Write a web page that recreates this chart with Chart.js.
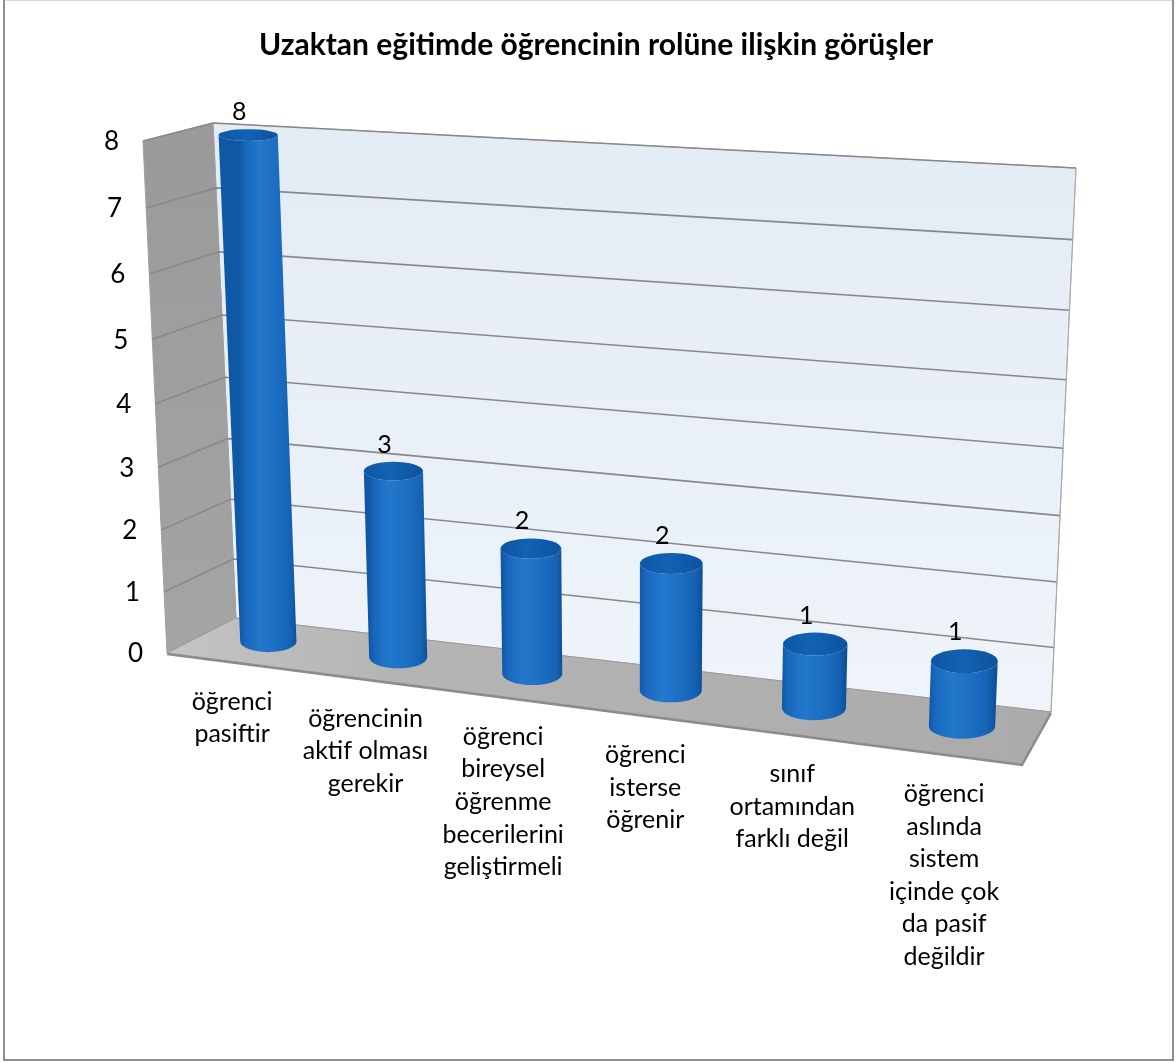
<!DOCTYPE html>
<html>
<head>
<meta charset="utf-8">
<script src="https://cdn.jsdelivr.net/npm/chart.js@4/dist/chart.umd.min.js"></script>
<style>
  html, body { margin: 0; padding: 0; background: #ffffff; }
  #wrap { width: 1176px; height: 1063px; }
</style>
</head>
<body>
<div id="wrap"><canvas id="c" width="1176" height="1063"></canvas></div>
<script>
// ---------- data ----------
const chartTitle = 'Uzaktan eğitimde öğrencinin rolüne ilişkin görüşler';
const categories = [
  ['öğrenci', 'pasiftir'],
  ['öğrencinin', 'aktif olması', 'gerekir'],
  ['öğrenci', 'bireysel', 'öğrenme', 'becerilerini', 'geliştirmeli'],
  ['öğrenci', 'isterse', 'öğrenir'],
  ['sınıf', 'ortamından', 'farklı değil'],
  ['öğrenci', 'aslında', 'sistem', 'içinde çok', 'da pasif', 'değildir']
];
const values = [8, 3, 2, 2, 1, 1];
const yMin = 0, yMax = 8, yStep = 1;

// ---------- view (3D frame) parameters, relative to the chart area ----------
const view = {
  back: { bl: [23, -94], br: [-25, 0], tr: [0, 45], tl: [0, 0] }, // offsets from chartArea corners
  depth: { bl: [-69, 35], br: [-29, 52], tr: [-30, 35], tl: [-70, 18] }, // back -> front vector
  barDepth: 0.45
};
const FONT = 'Lato, "Open Sans", sans-serif';

function lerp(a, b, t) { return [a[0] + (b[0] - a[0]) * t, a[1] + (b[1] - a[1]) * t]; }

function quadMap(q, u, v) {
  const [x0, y0] = q[0], [x1, y1] = q[1], [x2, y2] = q[2], [x3, y3] = q[3];
  const dx1 = x1 - x2, dx2 = x3 - x2, dx3 = x0 - x1 + x2 - x3;
  const dy1 = y1 - y2, dy2 = y3 - y2, dy3 = y0 - y1 + y2 - y3;
  let a, b, c, d, e, f, g, h;
  if (Math.abs(dx3) < 1e-9 && Math.abs(dy3) < 1e-9) {
    a = x1 - x0; b = x3 - x0; c = x0; d = y1 - y0; e = y3 - y0; f = y0; g = 0; h = 0;
  } else {
    const den = dx1 * dy2 - dx2 * dy1;
    g = (dx3 * dy2 - dx2 * dy3) / den;
    h = (dx1 * dy3 - dx3 * dy1) / den;
    a = x1 - x0 + g * x1; b = x3 - x0 + h * x3; c = x0;
    d = y1 - y0 + g * y1; e = y3 - y0 + h * y3; f = y0;
  }
  const w = g * u + h * v + 1;
  return [(a * u + b * v + c) / w, (d * u + e * v + f) / w];
}

function makeProjector(ca) {
  const B = {
    bl: [ca.left + view.back.bl[0], ca.bottom + view.back.bl[1]],
    br: [ca.right + view.back.br[0], ca.bottom + view.back.br[1]],
    tr: [ca.right + view.back.tr[0], ca.top + view.back.tr[1]],
    tl: [ca.left + view.back.tl[0], ca.top + view.back.tl[1]]
  };
  const F = {};
  for (const k of ['bl', 'br', 'tr', 'tl']) F[k] = [B[k][0] + view.depth[k][0], B[k][1] + view.depth[k][1]];
  return function (u, v, dd) {
    const q = [lerp(B.bl, F.bl, dd), lerp(B.br, F.br, dd), lerp(B.tr, F.tr, dd), lerp(B.tl, F.tl, dd)];
    return quadMap(q, u, v);
  };
}

function poly(ctx, pts) {
  ctx.beginPath();
  ctx.moveTo(pts[0][0], pts[0][1]);
  for (let i = 1; i < pts.length; i++) ctx.lineTo(pts[i][0], pts[i][1]);
  ctx.closePath();
}

const scene3d = {
  id: 'scene3d',
  beforeDraw(chart) {
    const ctx = chart.ctx;
    ctx.save();
    ctx.fillStyle = '#ffffff';
    ctx.fillRect(0, 0, chart.width, chart.height);
    ctx.restore();
  },
  afterDraw(chart) {
    const ctx = chart.ctx;
    const ca = chart.chartArea;
    const P = makeProjector(ca);
    const xs = chart.scales.x, ys = chart.scales.y;
    const uOf = px => (px - ca.left) / (ca.right - ca.left);
    const vOf = py => (ca.bottom - py) / (ca.bottom - ca.top);

    ctx.save();
    // outer frame
    ctx.lineWidth = 1;
    ctx.strokeStyle = '#d9d9d9';
    ctx.beginPath(); ctx.moveTo(3, 0.5); ctx.lineTo(1173, 0.5); ctx.stroke();
    ctx.lineWidth = 2;
    ctx.strokeStyle = '#8f8f8f';
    ctx.beginPath(); ctx.moveTo(4, 0); ctx.lineTo(4, 1060); ctx.lineTo(1173, 1060); ctx.lineTo(1173, 0); ctx.stroke();

    // back wall
    const bw = [P(0, 0, 0), P(1, 0, 0), P(1, 1, 0), P(0, 1, 0)];
    let gr = ctx.createLinearGradient(0, bw[3][1], 0, bw[1][1]);
    gr.addColorStop(0, '#e3ebf5');
    gr.addColorStop(1, '#eff4fa');
    poly(ctx, bw); ctx.fillStyle = gr; ctx.fill();
    ctx.lineWidth = 1; ctx.strokeStyle = '#b5b5b5'; ctx.stroke();

    // left wall
    const lw = [P(0, 0, 0), P(0, 0, 1), P(0, 1, 1), P(0, 1, 0)];
    gr = ctx.createLinearGradient(0, lw[2][1], 0, lw[1][1]);
    gr.addColorStop(0, '#9a9a9a');
    gr.addColorStop(1, '#a4a4a4');
    poly(ctx, lw); ctx.fillStyle = gr; ctx.fill();
    ctx.strokeStyle = '#a0a0a0'; ctx.stroke();

    // floor
    const fl = [P(0, 0, 0), P(1, 0, 0), P(1, 0, 1), P(0, 0, 1)];
    gr = ctx.createLinearGradient(fl[3][0], 0, fl[2][0], 0);
    gr.addColorStop(0, '#c4c4c4');
    gr.addColorStop(0.25, '#b5b5b5');
    gr.addColorStop(1, '#ababab');
    poly(ctx, fl); ctx.fillStyle = gr; ctx.fill();
    ctx.lineWidth = 1; ctx.strokeStyle = '#9a9a9a'; ctx.stroke();
    ctx.lineWidth = 2.5; ctx.strokeStyle = '#8c8c8c';
    ctx.beginPath(); ctx.moveTo(fl[3][0], fl[3][1] + 1); ctx.lineTo(fl[2][0], fl[2][1] + 1); ctx.lineTo(fl[1][0], fl[1][1] + 1); ctx.stroke();

    // gridlines from y scale ticks
    ctx.lineWidth = 1.6;
    ctx.strokeStyle = '#888888';
    ys.ticks.forEach(t => {
      const v = vOf(ys.getPixelForValue(t.value));
      if (v <= 0.0001) return;
      const a = P(0, v, 0), b = P(1, v, 0), c = P(0, v, 1);
      ctx.beginPath(); ctx.moveTo(c[0], c[1]); ctx.lineTo(a[0], a[1]); ctx.lineTo(b[0], b[1]); ctx.stroke();
    });
    ctx.lineWidth = 1; ctx.strokeStyle = '#a8a8a8';
    ctx.beginPath(); ctx.moveTo(bw[1][0], bw[1][1]); ctx.lineTo(bw[2][0], bw[2][1]); ctx.stroke();

    // y tick labels (left front edge)
    ctx.fillStyle = '#000000';
    ctx.font = '26px ' + FONT;
    ctx.textAlign = 'right';
    ctx.textBaseline = 'middle';
    ys.ticks.forEach(t => {
      const v = vOf(ys.getPixelForValue(t.value));
      const p = P(0, v, 1);
      ctx.fillText(String(t.value), p[0] - 24, p[1] + 1);
    });

    // cylinders
    const meta = chart.getDatasetMeta(0);
    const dd = view.barDepth;
    meta.data.forEach((el, i) => {
      const pr = el.getProps(['x', 'y', 'base', 'width'], true);
      const uc = uOf(pr.x), hw = (pr.width / 2) / (ca.right - ca.left);
      const vTop = vOf(pr.y), vBot = vOf(pr.base);
      const bc = P(uc, vBot, dd), tc = P(uc, vTop, dd);
      const bl = P(uc - hw, vBot, dd), br = P(uc + hw, vBot, dd);
      const tl = P(uc - hw, vTop, dd), tr = P(uc + hw, vTop, dd);
      const rxB = (br[0] - bl[0]) / 2, rxT = (tr[0] - tl[0]) / 2;
      const ryB = rxB * (0.2 + 0.18 * (1 - vBot));
      const ryT = rxT * (0.2 + 0.18 * (1 - vTop));
      ctx.beginPath();
      ctx.moveTo(tc[0] - rxT, tc[1]);
      ctx.lineTo(bc[0] - rxB, bc[1]);
      ctx.ellipse(bc[0], bc[1], rxB, ryB, 0, Math.PI, 0, true);
      ctx.lineTo(tc[0] + rxT, tc[1]);
      ctx.ellipse(tc[0], tc[1], rxT, ryT, 0, 0, Math.PI, false);
      ctx.closePath();
      const gx = ctx.createLinearGradient(bc[0] - rxB, 0, bc[0] + rxB, 0);
      gx.addColorStop(0, '#0f58a6');
      gx.addColorStop(0.1, '#1968be');
      gx.addColorStop(0.35, '#2378cc');
      gx.addColorStop(0.7, '#1b6cc1');
      gx.addColorStop(0.9, '#1462b2');
      gx.addColorStop(1, '#0d5099');
      ctx.fillStyle = gx;
      ctx.fill();
      ctx.beginPath();
      ctx.ellipse(tc[0], tc[1], rxT, ryT, 0, 0, Math.PI * 2);
      const gt = ctx.createLinearGradient(tc[0] - rxT, 0, tc[0] + rxT, 0);
      gt.addColorStop(0, '#0d57a5');
      gt.addColorStop(0.45, '#1262b3');
      gt.addColorStop(1, '#0c539f');
      ctx.fillStyle = gt;
      ctx.fill();

      ctx.fillStyle = '#000000';
      ctx.font = '25px ' + FONT;
      ctx.textAlign = 'center';
      ctx.textBaseline = 'middle';
      ctx.fillText(String(values[i]), tc[0] - 9, tc[1] - ryT - 17);
    });

    // category labels along the front floor edge
    ctx.fillStyle = '#000000';
    ctx.font = '25px ' + FONT;
    ctx.textAlign = 'center';
    ctx.textBaseline = 'middle';
    chart.data.labels.forEach((lab, i) => {
      const u = uOf(xs.getPixelForValue(i));
      const p = P(u, 0, 1);
      const lines = Array.isArray(lab) ? lab : [lab];
      lines.forEach((ln, k) => ctx.fillText(ln, p[0], p[1] + 40 + k * 32.6));
    });

    // title
    ctx.font = 'bold 30px ' + FONT;
    ctx.textAlign = 'center';
    ctx.textBaseline = 'middle';
    ctx.fillText(chartTitle, 596, 45);
    ctx.restore();
  }
};

new Chart(document.getElementById('c'), {
  type: 'bar',
  data: {
    labels: categories,
    datasets: [{
      data: values,
      backgroundColor: 'rgba(0,0,0,0)',
      borderWidth: 0,
      barPercentage: 0.44,
      categoryPercentage: 1.0
    }]
  },
  options: {
    responsive: false,
    devicePixelRatio: 1,
    animation: false,
    layout: { padding: { left: 213, top: 123, right: 100, bottom: 351 } },
    plugins: { legend: { display: false }, title: { display: false }, tooltip: { enabled: false } },
    scales: {
      x: { display: false },
      y: { display: false, min: yMin, max: yMax, ticks: { stepSize: yStep } }
    }
  },
  plugins: [scene3d]
});
</script>
</body>
</html>
